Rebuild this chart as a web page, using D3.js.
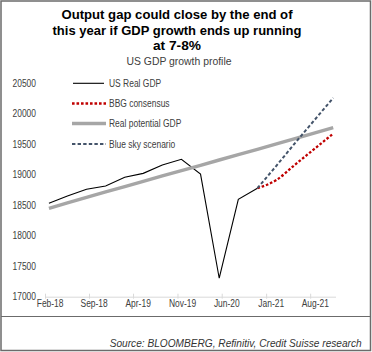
<!DOCTYPE html>
<html>
<head>
<meta charset="utf-8">
<script src="https://cdn.jsdelivr.net/npm/d3@7"></script>
<style>
  html, body { margin: 0; padding: 0; background: #fff; }
  svg { display: block; font-family: "Liberation Sans", Arial, sans-serif; }
</style>
</head>
<body>
<svg id="chart" width="372" height="352"></svg>
<script>
// ---- data ----
const titleLines = ["Output gap could close by the end of", "this year if GDP growth ends up running", "at 7-8%"];
const subtitle = "US GDP growth profile";
const sourceText = "Source: BLOOMBERG, Refinitiv, Credit Suisse research";

const quarters = ["2018Q1","2018Q2","2018Q3","2018Q4","2019Q1","2019Q2","2019Q3","2019Q4",
                  "2020Q1","2020Q2","2020Q3","2020Q4","2021Q1","2021Q2","2021Q3","2021Q4"];
const usRealGDP = [18532, 18652, 18762, 18816, 18958, 19023, 19160, 19253, 19011, 17303, 18597, 18780];
const potentialGDP = [18450, 18540, 18630, 18718, 18805, 18893, 18980, 19068,
                      19155, 19242, 19330, 19417, 19505, 19593, 19682, 19772];
const bbgQuarters = ["2020Q4","2021Q1","2021Q2","2021Q3","2021Q4"];
const bbgConsensus = [18780, 18915, 19165, 19420, 19675];
const blueSky = [18780, 19150, 19520, 19890, 20260];

const yTicks = [17000, 17500, 18000, 18500, 19000, 19500, 20000, 20500];
const xTickLabels = ["Feb-18","Sep-18","Apr-19","Nov-19","Jun-20","Jan-21","Aug-21"];
const legendLabels = ["US Real GDP", "BBG consensus", "Real potential GDP", "Blue sky scenario"];

// ---- helpers ----
const qDate = q => new Date(+q.slice(0,4), (+q.slice(5)) * 3 - 2, 20);
const parseTick = d3.timeParse("%b-%y");

const svg = d3.select("#chart");
const W = 372, H = 352;

// frame
svg.append("rect").attr("x", 1).attr("y", 1).attr("width", W - 2.5).attr("height", H - 2.5)
  .attr("fill", "#fff").attr("stroke", "#6b6b6b").attr("stroke-width", 1.5);
svg.append("line").attr("x1", 1).attr("x2", W - 1.5).attr("y1", 316.5).attr("y2", 316.5)
  .attr("stroke", "#6b6b6b").attr("stroke-width", 1.2);

// scales
const x = d3.scaleTime()
  .domain([new Date(2018, 1, 1), new Date(2021, 11, 1)])
  .range([45, 335.5]);
const y = d3.scaleLinear().domain([17000, 20500]).range([296.7, 83.3]);

function condense(sel, f) {
  sel.each(function() {
    const l = this.getComputedTextLength();
    d3.select(this).attr("textLength", l * f).attr("lengthAdjust", "spacingAndGlyphs");
  });
}

// title
const titleWidths = [231, 249, 48];
const titleBase = [19.3, 34.5, 50];
titleLines.forEach((t, i) => {
  svg.append("text").attr("x", 177).attr("y", titleBase[i])
    .attr("text-anchor", "middle").attr("font-weight", "bold").attr("font-size", 13.6)
    .attr("fill", "#000").attr("textLength", titleWidths[i]).attr("lengthAdjust", "spacingAndGlyphs")
    .text(t);
});
svg.append("text").attr("x", 179).attr("y", 65).attr("text-anchor", "middle")
  .attr("font-size", 11.5).attr("fill", "#404040")
  .attr("textLength", 105).attr("lengthAdjust", "spacingAndGlyphs").text(subtitle);

// y axis labels (no line)
const yAxis = d3.axisLeft(y).tickValues(yTicks).tickSize(0).tickPadding(0).tickFormat(d3.format("d"));
const gy = svg.append("g").attr("transform", "translate(36,0)").call(yAxis);
gy.select(".domain").remove();
gy.selectAll("text").attr("font-size", 10).attr("fill", "#404040")
  .attr("x", 0).attr("dy", "0.3em");
condense(gy.selectAll("text"), 0.845);

// x axis
const xAxis = d3.axisBottom(x).tickValues(xTickLabels.map(parseTick))
  .tickFormat((d, i) => xTickLabels[i]).tickSize(0).tickPadding(0);
const gx = svg.append("g").attr("transform", `translate(0,${y(17000)})`).call(xAxis);
gx.select(".domain").attr("stroke", "#d9d9d9").attr("stroke-width", 1);
gx.selectAll(".tick line").attr("y1", -3).attr("y2", 2).attr("stroke", "#d9d9d9");
gx.selectAll("text").attr("font-size", 10).attr("fill", "#404040")
  .attr("x", 4.6).attr("y", 10.5).attr("dy", 0);
condense(gx.selectAll("text"), 0.845);

// lines
const lineGen = d3.line().x(d => x(d.date)).y(d => y(d.v));
const realPts = usRealGDP.map((v, i) => ({ date: qDate(quarters[i]), v }));
const potPts = potentialGDP.map((v, i) => ({ date: qDate(quarters[i]), v }));
const bbgPts = bbgConsensus.map((v, i) => ({ date: qDate(bbgQuarters[i]), v }));
const skyPts = blueSky.map((v, i) => ({ date: qDate(bbgQuarters[i]), v }));

const styles = [
  { stroke: "#000000", width: 1.1, dash: null },
  { stroke: "#c00000", width: 2.3, dash: "2.6,1.9" },
  { stroke: "#a6a6a6", width: 3.4, dash: null },
  { stroke: "#44546a", width: 2.0, dash: "3.4,2.2" }
];

svg.append("path").datum(realPts).attr("d", lineGen)
  .attr("fill", "none").attr("stroke", styles[0].stroke).attr("stroke-width", styles[0].width)
  .attr("stroke-linejoin", "miter");
svg.append("path").datum(bbgPts).attr("d", lineGen.curve(d3.curveMonotoneX))
  .attr("fill", "none").attr("stroke", styles[1].stroke).attr("stroke-width", styles[1].width)
  .attr("stroke-dasharray", styles[1].dash);
lineGen.curve(d3.curveLinear);
svg.append("path").datum(potPts).attr("d", lineGen)
  .attr("fill", "none").attr("stroke", styles[2].stroke).attr("stroke-width", styles[2].width);
svg.append("path").datum(skyPts).attr("d", lineGen)
  .attr("fill", "none").attr("stroke", styles[3].stroke).attr("stroke-width", styles[3].width)
  .attr("stroke-dasharray", styles[3].dash);

// legend
const legY = [83.3, 103.5, 123.5, 144];
const leg = svg.append("g");
legendLabels.forEach((lab, i) => {
  const s = styles[i];
  leg.append("line").attr("x1", i === 0 ? 73 : 72).attr("x2", i === 0 ? 104 : 106)
    .attr("y1", legY[i]).attr("y2", legY[i])
    .attr("stroke", s.stroke).attr("stroke-width", s.width)
    .attr("stroke-dasharray", s.dash);
  leg.append("text").attr("x", 109).attr("y", legY[i]).attr("dy", "0.35em")
    .attr("font-size", 10).attr("fill", "#404040").text(lab);
});
condense(leg.selectAll("text"), 0.845);

// source
svg.append("text").attr("x", 361.7).attr("y", 346.5).attr("text-anchor", "end")
  .attr("font-style", "italic").attr("font-size", 10).attr("fill", "#333")
  .attr("textLength", 252).attr("lengthAdjust", "spacingAndGlyphs").text(sourceText);
</script>
</body>
</html>
